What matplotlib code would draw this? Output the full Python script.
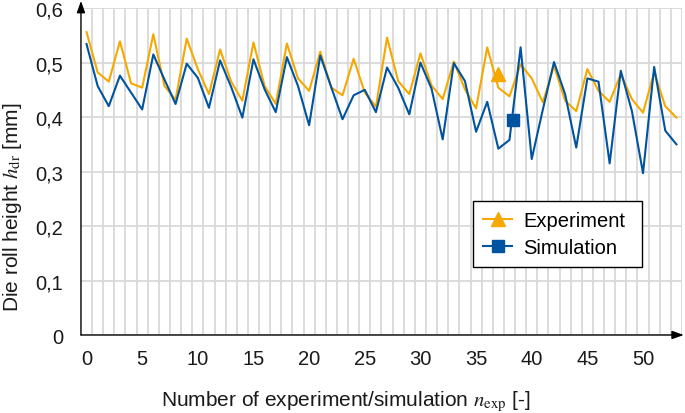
import matplotlib

matplotlib.use("Agg")
import matplotlib.pyplot as plt
import numpy as np
from matplotlib.ticker import FixedLocator, FuncFormatter, MultipleLocator

plt.rcParams["font.family"] = ["Liberation Sans", "DejaVu Sans"]
plt.rcParams["mathtext.fontset"] = "stix"

# experiment number 0..53
n_exp = np.arange(54)
experiment = [
    0.556, 0.482, 0.465, 0.539, 0.462, 0.454, 0.552, 0.457, 0.432, 0.544,
    0.488, 0.442, 0.524, 0.465, 0.430, 0.537, 0.457, 0.424, 0.535, 0.471,
    0.448, 0.520, 0.454, 0.440, 0.507, 0.445, 0.419, 0.546, 0.466, 0.442,
    0.517, 0.458, 0.433, 0.502, 0.451, 0.416, 0.528, 0.454, 0.438, 0.497,
    0.471, 0.427, 0.494, 0.430, 0.411, 0.488, 0.448, 0.428, 0.479, 0.433,
    0.408, 0.482, 0.420, 0.399,
]
simulation = [
    0.534, 0.457, 0.420, 0.476, 0.445, 0.414, 0.515, 0.469, 0.424, 0.498,
    0.472, 0.417, 0.504, 0.455, 0.399, 0.506, 0.451, 0.409, 0.510, 0.457,
    0.385, 0.513, 0.454, 0.396, 0.440, 0.450, 0.409, 0.491, 0.454, 0.405,
    0.500, 0.452, 0.359, 0.499, 0.466, 0.373, 0.428, 0.342, 0.358, 0.528,
    0.323, 0.414, 0.501, 0.442, 0.344, 0.471, 0.465, 0.315, 0.485, 0.411,
    0.297, 0.492, 0.375, 0.350,
]
# highlighted single points
exp_marker_n, exp_marker_h = [37], [0.479]
sim_marker_n, sim_marker_h = [38.3], [0.395]

ORANGE = "#f6a800"
BLUE = "#00549f"
GRID = "#d9d9d9"
TEXT = "#1a1a1a"

fig = plt.figure(figsize=(6.85, 4.14), dpi=100)
ax = fig.add_axes([0.1182, 0.1884, 0.8774, 0.7896])

ax.plot(n_exp, experiment, color=ORANGE, lw=1.5, zorder=3)
ax.plot(n_exp, simulation, color=BLUE, lw=1.5, zorder=4)
ax.plot(exp_marker_n, exp_marker_h, ls="none", marker="^", ms=10, color=ORANGE, zorder=5)
ax.plot(sim_marker_n, sim_marker_h, ls="none", marker="s", ms=8.5, color=BLUE, zorder=5)

ax.set_xlim(-0.5, 53.5)
ax.set_ylim(0, 0.6)
ax.xaxis.set_major_locator(MultipleLocator(5))
ax.xaxis.set_minor_locator(FixedLocator(np.arange(0.5, 53.6, 1)))
ax.yaxis.set_major_locator(MultipleLocator(0.1))
ax.yaxis.set_major_formatter(
    FuncFormatter(lambda v, _: "0" if abs(v) < 1e-9 else f"{v:.1f}".replace(".", ","))
)
ax.grid(True, which="minor", axis="x", color=GRID, lw=1.3)
ax.grid(True, which="major", axis="y", color=GRID, lw=1.3)
ax.tick_params(axis="both", which="both", length=0, labelsize=14.5, colors=TEXT)
ax.tick_params(axis="x", pad=10)
ax.tick_params(axis="y", pad=13)
ax.set_axisbelow(True)

for side in ("top", "right", "left", "bottom"):
    ax.spines[side].set_visible(False)
arrow = dict(arrowstyle="-|>,head_length=0.7,head_width=0.25", color="black", lw=1.0,
             shrinkA=0, shrinkB=0)
ax.annotate("", xy=(0, 1.022), xytext=(0, 0), xycoords="axes fraction", arrowprops=arrow,
            annotation_clip=False)
ax.annotate("", xy=(1.003, 0), xytext=(0, 0), xycoords="axes fraction", arrowprops=arrow,
            annotation_clip=False)

# labels are centred on the figure, not the axes
ax.set_xlabel(r"Number of experiment/simulation $n_\mathrm{exp}$ [-]", fontsize=15, color=TEXT)
ax.set_ylabel(r"Die roll height $h_\mathrm{dr}$ [mm]", fontsize=15, color=TEXT)
ax.xaxis.set_label_coords(0.441, -0.165)
ax.yaxis.set_label_coords(-0.095, 0.394)

handles = [
    plt.Line2D([], [], color=ORANGE, lw=1.5, marker="^", ms=10, label="Experiment"),
    plt.Line2D([], [], color=BLUE, lw=1.5, marker="s", ms=8, label="Simulation"),
]
leg = ax.legend(handles=handles, loc="lower left", bbox_to_anchor=(0.652, 0.208, 0.281, 0.211),
                mode="expand", borderaxespad=0, fontsize=14.5, fancybox=False, framealpha=1,
                edgecolor="black", borderpad=0.5, labelspacing=0.4, handlelength=1.45,
                handletextpad=0.55)
leg.get_frame().set_linewidth(1.0)

fig.savefig("out.png", dpi=100)
